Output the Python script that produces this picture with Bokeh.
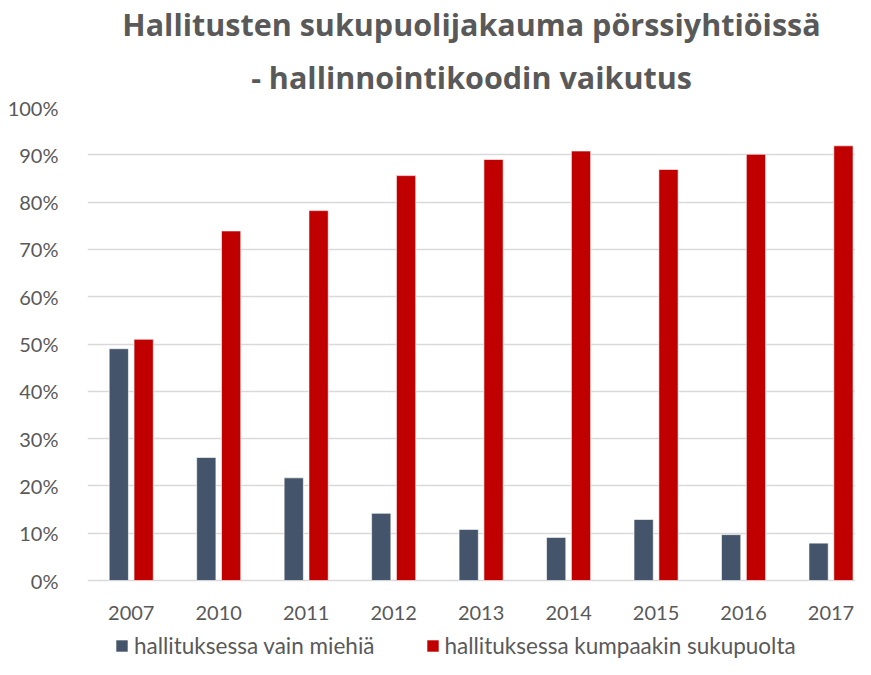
from bokeh.plotting import figure
from bokeh.models import (ColumnDataSource, Title, Legend, LegendItem, FixedTicker,
                          NumeralTickFormatter, Range1d)
from bokeh.core.properties import value
from bokeh.embed import file_html
from bokeh.resources import INLINE

years = ["2007", "2010", "2011", "2012", "2013", "2014", "2015", "2016", "2017"]
only_men = [0.49, 0.26, 0.217, 0.142, 0.108, 0.091, 0.129, 0.097, 0.079]
both_genders = [0.51, 0.739, 0.782, 0.856, 0.890, 0.908, 0.869, 0.901, 0.919]
series_names = ["hallituksessa vain miehiä", "hallituksessa kumpaakin sukupuolta"]
title_lines = ["Hallitusten sukupuolijakauma pörssiyhtiöissä", "- hallinnointikoodin vaikutus"]

GRAY = "#44546a"
RED = "#c00000"
TXT = "#595959"
FONT = "Lato"
TFONT = "Open Sans"

idx = list(range(len(years)))
src = ColumnDataSource(dict(
    x_men=[i - 0.142 for i in idx],
    x_both=[i + 0.142 for i in idx],
    men=only_men,
    both=both_genders,
))
lab_src = ColumnDataSource(dict(x=idx, y=[0] * len(idx), text=years))

p = figure(width=855, height=659, output_backend="svg", toolbar_location=None,
           x_range=Range1d(-0.5, 8.28), y_range=Range1d(-0.167, 1.0),
           x_axis_location=None,
           min_border_left=87, min_border_right=0, min_border_top=3, min_border_bottom=0)

r1 = p.vbar(x="x_men", top="men", width=0.22, source=src, fill_color=GRAY,
            line_color="white", line_width=0.6)
r2 = p.vbar(x="x_both", top="both", width=0.22, source=src, fill_color=RED,
            line_color="white", line_width=0.6)

# category labels under the baseline
p.text(x="x", y="y", text="text", source=lab_src, text_font=value(FONT),
       text_font_size="20px", text_color=TXT, text_align="center",
       text_baseline="middle", y_offset=32)

p.add_layout(Title(text=title_lines[1], align="center", text_font=TFONT, text_font_size="30.5px",
                   text_font_style="bold", text_color=TXT, standoff=19), "above")
p.add_layout(Title(text=title_lines[0], align="center", text_font=TFONT, text_font_size="30.5px",
                   text_font_style="bold", text_color=TXT, standoff=0), "above")

p.outline_line_color = None
p.background_fill_color = "white"

p.xgrid.grid_line_color = None
p.ygrid.grid_line_color = "#d9d9d9"
p.ygrid.grid_line_width = 1.5
p.ygrid.ticker = FixedTicker(ticks=[i / 10 for i in range(11)])

p.yaxis.ticker = FixedTicker(ticks=[i / 10 for i in range(11)])
p.yaxis.formatter = NumeralTickFormatter(format="0%")
p.yaxis.axis_line_color = None
p.yaxis.major_tick_line_color = None
p.yaxis.minor_tick_line_color = None
p.yaxis.major_label_text_font = FONT
p.yaxis.major_label_text_font_size = "20px"
p.yaxis.major_label_text_color = TXT
p.yaxis.major_label_standoff = 23

legend = Legend(items=[LegendItem(label=series_names[0], renderers=[r1]),
                       LegendItem(label=series_names[1], renderers=[r2])],
                orientation="horizontal", location=(27, 0),
                label_text_font=FONT, label_text_font_size="22.5px", label_text_color=TXT,
                glyph_width=15, glyph_height=15, spacing=50, label_standoff=5,
                border_line_color=None, background_fill_alpha=0, margin=0, padding=0)
p.add_layout(legend, "center")

open("out.html", "w").write(file_html(p, INLINE))
